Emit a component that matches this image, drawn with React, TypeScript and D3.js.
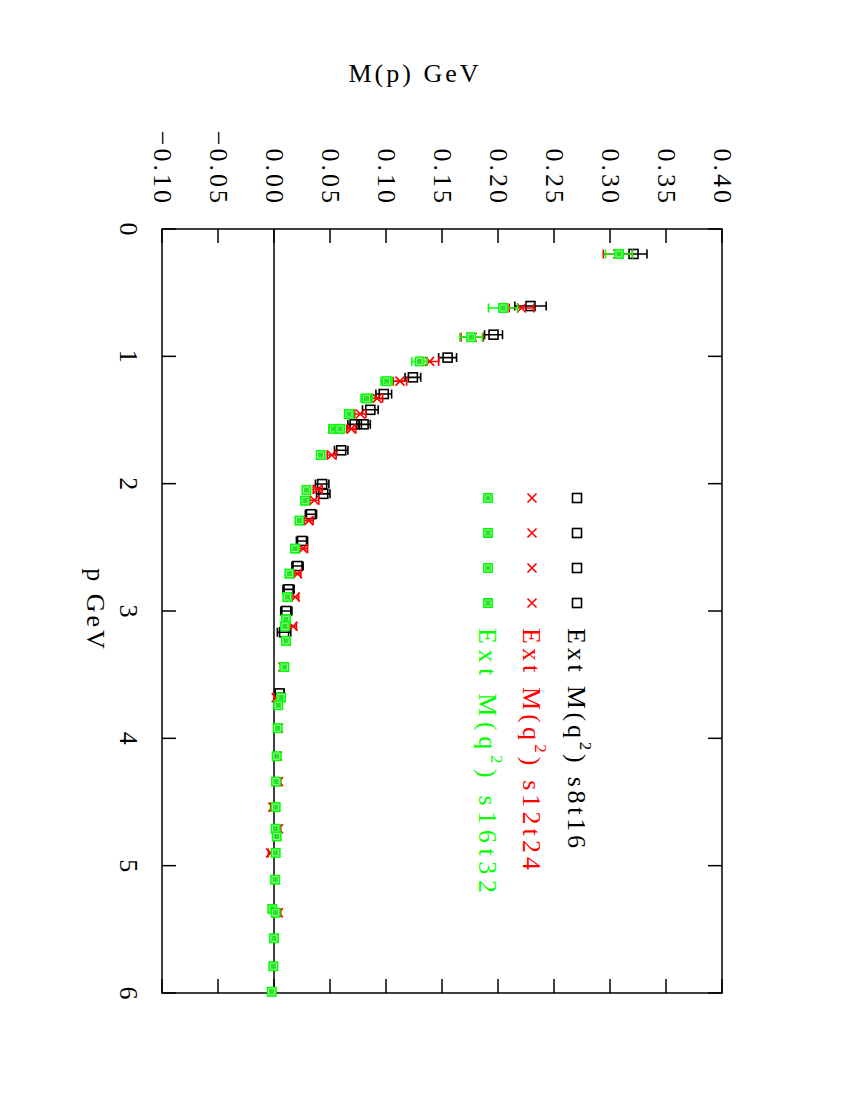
import React, { useEffect, useRef } from 'react';
import * as d3 from 'd3';

// s8t16 (black squares)
const pS8 = [0.196, 0.605, 0.83, 1.01, 1.165, 1.296, 1.42, 1.534, 1.534, 1.738, 2.003, 2.08, 2.24, 2.45, 2.647, 2.83, 3.0, 3.167, 3.647];
const mS8 = [0.321, 0.229, 0.196, 0.155, 0.124, 0.098, 0.086, 0.072, 0.080, 0.060, 0.043, 0.044, 0.033, 0.025, 0.021, 0.013, 0.011, 0.009, 0.005];
const eS8 = [0.012, 0.014, 0.008, 0.008, 0.007, 0.007, 0.007, 0.006, 0.006, 0.006, 0.006, 0.006, 0.005, 0.005, 0.005, 0.005, 0.005, 0.006, 0.004];

// s12t24 (red crosses)
const pS12 = [0.196, 0.62, 0.85, 1.04, 1.195, 1.33, 1.453, 1.57, 1.775, 2.045, 2.13, 2.29, 2.51, 2.707, 2.89, 3.12, 3.235, 3.44, 3.68, 3.92, 4.14, 4.34, 4.54, 4.71, 4.9, 5.37];
const mS12 = [0.307, 0.221, 0.177, 0.139, 0.1125, 0.092, 0.077, 0.069, 0.0515, 0.039, 0.036, 0.031, 0.026, 0.021, 0.019, 0.017, 0.011, 0.008, 0.002, 0.004, 0.003, 0.004, -0.001, 0.004, -0.003, 0.004];
const eS12 = [0.013, 0.011, 0.010, 0.008, 0.006, 0.005, 0.005, 0.004, 0.004, 0.004, 0.004, 0.004, 0.004, 0.003, 0.003, 0.003, 0.003, 0.002, 0.002, 0.002, 0.002, 0.002, 0.002, 0.002, 0.002, 0.002];

// s16t32 (green boxes)
const pS16 = [0.196, 0.62, 0.85, 1.04, 1.195, 1.33, 1.453, 1.57, 1.57, 1.775, 2.05, 2.134, 2.29, 2.51, 2.707, 2.89, 3.065, 3.12, 3.235, 3.44, 3.68, 3.74, 3.92, 4.14, 4.34, 4.54, 4.71, 4.77, 4.9, 5.11, 5.34, 5.37, 5.57, 5.79, 5.99];
const mS16 = [0.308, 0.2045, 0.176, 0.130, 0.1006, 0.0827, 0.067, 0.053, 0.059, 0.0417, 0.029, 0.0277, 0.0226, 0.0188, 0.0137, 0.0119, 0.0107, 0.0098, 0.0107, 0.0092, 0.0063, 0.0038, 0.0033, 0.0024, 0.0018, 0.0015, 0.0015, 0.0024, 0.0015, 0.001, -0.0015, 0.0015, 0.0, -0.0006, -0.002];
const eS16 = [0.012, 0.013, 0.010, 0.007, 0.005, 0.005, 0.004, 0.004, 0.004, 0.003, 0.003, 0.003, 0.003, 0.003, 0.003, 0.003, 0.002, 0.002, 0.002, 0.002, 0.002, 0.002, 0.002, 0.002, 0.002, 0.002, 0.002, 0.002, 0.002, 0.002, 0.002, 0.002, 0.002, 0.002, 0.002];

const pTicks = [0, 1, 2, 3, 4, 5, 6];
const mTicks = [-0.1, -0.05, 0, 0.05, 0.1, 0.15, 0.2, 0.25, 0.3, 0.35, 0.4];
const legendSamples = [0, 1, 2, 3];

const FONT = "'Liberation Serif', 'DejaVu Serif', serif";
const SPACING = 3;

const App: React.FC = () => {
  const svgRef = useRef<SVGSVGElement>(null);

  useEffect(() => {
    if (!svgRef.current) return;
    const svg = d3.select(svgRef.current);
    svg.selectAll('*').remove();

    // page is rotated: p runs downward, M runs to the right
    const left = 162, right = 722, top = 229, bottom = 993;
    const yP = d3.scaleLinear().domain([0, 6]).range([top, bottom]);
    const xM = d3.scaleLinear().domain([-0.1, 0.4]).range([left, right]);
    const keyY = d3.scaleLinear().domain([0, 3]).range([498, 603]);
    const tick = 14;

    const g = svg.append('g');

    // zero line
    g.append('line')
      .attr('x1', xM(0)).attr('x2', xM(0))
      .attr('y1', top).attr('y2', bottom)
      .attr('stroke', '#000').attr('stroke-width', 1.5);

    // p ticks (left and right)
    pTicks.forEach(t => {
      g.append('line').attr('x1', left).attr('x2', left + tick).attr('y1', yP(t)).attr('y2', yP(t))
        .attr('stroke', '#000').attr('stroke-width', 1.5);
      g.append('line').attr('x1', right).attr('x2', right - tick).attr('y1', yP(t)).attr('y2', yP(t))
        .attr('stroke', '#000').attr('stroke-width', 1.5);
      g.append('text')
        .attr('transform', `translate(128,${yP(t)}) rotate(90)`)
        .attr('text-anchor', 'middle')
        .attr('dominant-baseline', 'central')
        .attr('font-family', FONT).attr('font-size', 26)
        .text(String(t));
    });

    // M ticks (top and bottom)
    mTicks.forEach(t => {
      g.append('line').attr('x1', xM(t)).attr('x2', xM(t)).attr('y1', top).attr('y2', top + tick)
        .attr('stroke', '#000').attr('stroke-width', 1.5);
      g.append('line').attr('x1', xM(t)).attr('x2', xM(t)).attr('y1', bottom).attr('y2', bottom - tick)
        .attr('stroke', '#000').attr('stroke-width', 1.5);
      const lbl = t < 0 ? '\u2212' + Math.abs(t).toFixed(2) : t.toFixed(2);
      g.append('text')
        .attr('transform', `translate(${xM(t)},206) rotate(90)`)
        .attr('text-anchor', 'end')
        .attr('dominant-baseline', 'central')
        .attr('font-family', FONT).attr('font-size', 26)
        .attr('letter-spacing', SPACING)
        .text(lbl);
    });

    // frame
    g.append('rect')
      .attr('x', left).attr('y', top)
      .attr('width', right - left).attr('height', bottom - top)
      .attr('fill', 'none').attr('stroke', '#000').attr('stroke-width', 1.5);

    // axis labels
    g.append('text')
      .attr('x', 415).attr('y', 82)
      .attr('text-anchor', 'middle')
      .attr('font-family', FONT).attr('font-size', 26)
      .attr('letter-spacing', SPACING)
      .text('M(p) GeV');
    g.append('text')
      .attr('transform', `translate(95,610) rotate(90)`)
      .attr('text-anchor', 'middle')
      .attr('dominant-baseline', 'central')
      .attr('font-family', FONT).attr('font-size', 26)
      .attr('letter-spacing', SPACING)
      .text('p GeV');

    const drawMarker = (sel: d3.Selection<SVGGElement, unknown, null, undefined>, kind: string, color: string, x: number, y: number) => {
      const s = 4.5;
      if (kind === 'square') {
        sel.append('rect').attr('x', x - s).attr('y', y - s).attr('width', 2 * s).attr('height', 2 * s)
          .attr('fill', 'none').attr('stroke', color).attr('stroke-width', 1.6);
      } else if (kind === 'cross') {
        sel.append('path').attr('d', `M${x - s},${y - s}L${x + s},${y + s}M${x - s},${y + s}L${x + s},${y - s}`)
          .attr('stroke', color).attr('stroke-width', 1.6).attr('fill', 'none');
      } else {
        sel.append('rect').attr('x', x - 5).attr('y', y - 5).attr('width', 10).attr('height', 10)
          .attr('fill', color);
        sel.append('rect').attr('x', x - 3).attr('y', y - 3).attr('width', 6).attr('height', 6)
          .attr('fill', 'none').attr('stroke', '#c8ffc8').attr('stroke-width', 0.8);
        sel.append('path').attr('d', `M${x - 3},${y - 3}L${x + 3},${y + 3}M${x - 3},${y + 3}L${x + 3},${y - 3}`)
          .attr('stroke', '#80a080').attr('stroke-width', 0.8);
      }
    };

    const series = [
      { p: pS8, m: mS8, e: eS8, color: '#000000', kind: 'square', label: ['Ext M(q', ') s8t16'], ky: 577, len: 220 },
      { p: pS12, m: mS12, e: eS12, color: '#ff0000', kind: 'cross', label: ['Ext M(q', ') s12t24'], ky: 532, len: 242 },
      { p: pS16, m: mS16, e: eS16, color: '#00ff00', kind: 'box', label: ['Ext M(q', ') s16t32'], ky: 488, len: 265 },
    ];

    series.forEach(s => {
      const sg = g.append('g');
      s.p.forEach((pv, i) => {
        const y = yP(pv);
        const x0 = xM(s.m[i] - s.e[i]);
        const x1 = xM(s.m[i] + s.e[i]);
        sg.append('path')
          .attr('d', `M${x0},${y}L${x1},${y}M${x0},${y - 4.5}L${x0},${y + 4.5}M${x1},${y - 4.5}L${x1},${y + 4.5}`)
          .attr('stroke', s.color).attr('stroke-width', 1.6).attr('fill', 'none');
        drawMarker(sg, s.kind, s.color, xM(s.m[i]), y);
      });

      // key
      legendSamples.forEach(k => drawMarker(sg, s.kind, s.color, s.ky, keyY(k)));
      const txt = sg.append('text')
        .attr('transform', `translate(${s.ky},628) rotate(90)`)
        .attr('dominant-baseline', 'central')
        .attr('font-family', FONT).attr('font-size', 26)
        .attr('textLength', s.len)
        .attr('lengthAdjust', 'spacing')
        .attr('fill', s.color);
      txt.append('tspan').text(s.label[0]);
      txt.append('tspan').attr('font-size', 17).attr('dy', -9).text('2');
      txt.append('tspan').attr('dy', 9).text(s.label[1]);
    });
  }, []);

  return (
    <svg
      ref={svgRef}
      width={850}
      height={1100}
      style={{ position: 'absolute', left: 0, top: 0, background: '#fff' }}
    />
  );
};

export default App;
